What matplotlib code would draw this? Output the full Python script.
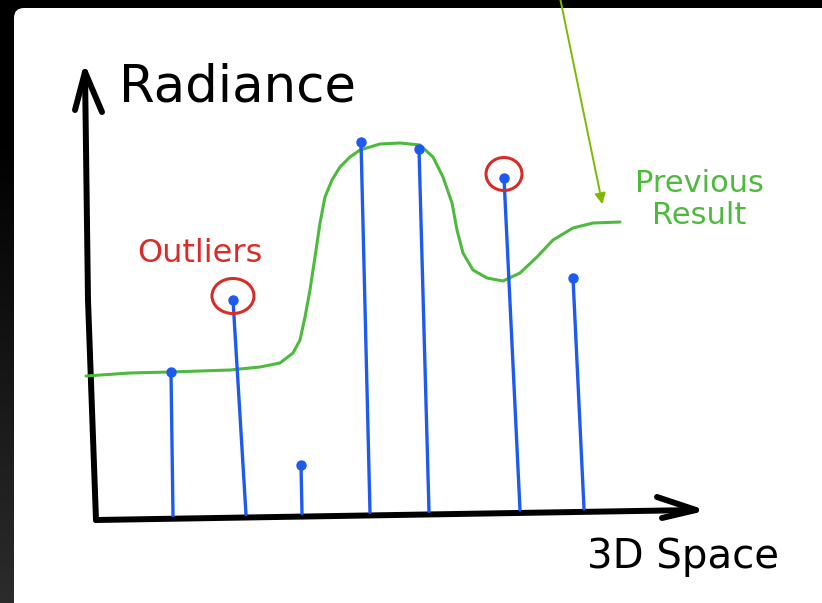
import numpy as np
import matplotlib.pyplot as plt
from matplotlib.patches import Ellipse, FancyBboxPatch

# samples along "3D Space": top of each stem and where it meets the axis
stem_x_top = [75, 137, 205, 265, 323, 408, 477]
stem_x_base = [77, 150, 206, 274, 333, 424, 488]
stem_radiance = [146, 218, 53, 376, 369, 340, 240]
outlier_idx = [1, 5]

# previous result curve
prev_x = [-10, 34, 74, 134, 164, 184, 197, 204, 209, 214, 219, 224, 229, 236, 244, 254, 264,
          284, 304, 324, 337, 347, 356, 361, 367, 377, 391, 407, 424, 441, 457, 477, 497, 524]
prev_y = [142, 145, 146, 148, 151, 155, 165, 178, 201, 228, 261, 295, 321, 338, 351, 361, 368,
          374, 375, 373, 361, 341, 315, 288, 265, 248, 240, 237, 245, 261, 278, 290, 295, 296]

# hand drawn axes
xaxis_x = [0, 600]
xaxis_y = [-2, 8]
yaxis_x = [0, -8, -11]
yaxis_y = [-2, 218, 446]

BLUE = '#1e5af0'
GREEN = '#4dba3e'
RED = '#d72d28'
ARROW = '#7db900'

fig = plt.figure(figsize=(8.22, 6.03), dpi=100)
fig.patch.set_facecolor('black')
ax = fig.add_axes([0, 0, 1, 1])
ax.set_axis_off()

# dark strip on the left, a bit lighter towards the bottom
grad = np.linspace(0.17, 0.0, 200).reshape(-1, 1)
grad = np.clip(grad * 1.3 - 0.05, 0, 1)
ax.imshow(np.dstack([grad, grad, grad]), extent=[-96, -82, -85, 518],
          aspect='auto', origin='lower', zorder=0)

# white card
card = FancyBboxPatch((-82, -300), 1000, 810, boxstyle='round,pad=0,rounding_size=10',
                      fc='white', ec='none', zorder=1)
ax.add_patch(card)

# axes lines
kw = dict(color='black', lw=4.3, solid_capstyle='round', solid_joinstyle='round', zorder=3)
ax.plot(xaxis_x, xaxis_y, **kw)
ax.plot(yaxis_x, yaxis_y, **kw)
ax.plot([-21, -11, 6], [408, 446, 406], **kw)
ax.plot([561, 600, 566], [21, 8, 0], **kw)

# previous result
ax.plot(prev_x, prev_y, color=GREEN, lw=2.2, solid_capstyle='round',
        solid_joinstyle='round', zorder=4)

# stems
for xt, xb, r in zip(stem_x_top, stem_x_base, stem_radiance):
    base = np.interp(xb, xaxis_x, xaxis_y) + 3
    ax.plot([xb, xt], [base, r], color=BLUE, lw=2.4, solid_capstyle='round', zorder=5)
    ax.plot(xt, r, 'o', color=BLUE, ms=6.5, zorder=6)

# circles around outliers
sizes = [(42, 35), (36, 33)]
for i, (w, h) in zip(outlier_idx, sizes):
    ax.add_patch(Ellipse((stem_x_top[i], stem_radiance[i] + 4), w, h, fill=False,
                         ec=RED, lw=2.2, zorder=6))

# text
ax.text(141, 417, 'Radiance', fontsize=37, ha='center', va='baseline', color='black', zorder=7)
ax.text(587, -50, '3D Space', fontsize=29, ha='center', va='baseline', color='black', zorder=7)
ax.text(104, 256, 'Outliers', fontsize=23, ha='center', va='baseline', color=RED, zorder=7)
ax.text(603, 349, 'Previous\nResult', fontsize=22, ha='center', va='top',
        multialignment='center', linespacing=1.15, color=GREEN, zorder=7)

# arrow pointing at the curve
ax.annotate('', xy=(507, 311), xytext=(462, 530),
            arrowprops=dict(arrowstyle='-|>', color=ARROW, lw=1.4, mutation_scale=16),
            annotation_clip=False, zorder=7)

ax.set_xlim(-96, 726)
ax.set_ylim(-85, 518)

plt.savefig('out.png', dpi=100, facecolor=fig.get_facecolor())
